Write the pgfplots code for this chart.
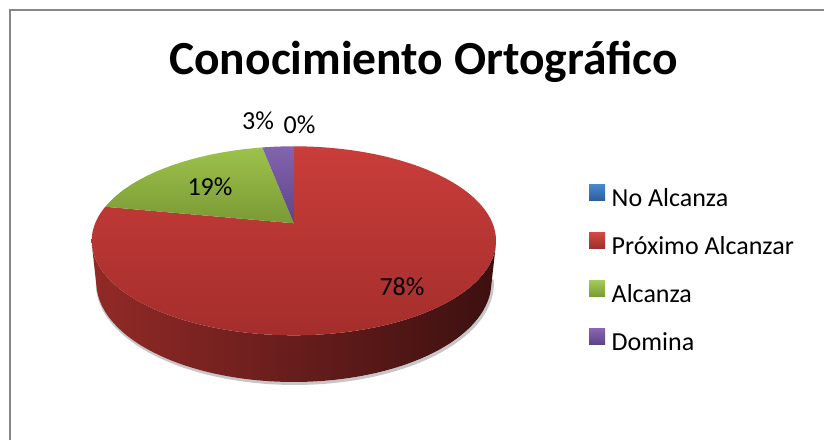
\documentclass[border=0pt]{standalone}
\usepackage{fontspec}
\setmainfont{Carlito}
\usepackage{pgfplots}
\pgfplotsset{compat=1.18}
\definecolor{frameg}{HTML}{878787}
\definecolor{redT}{HTML}{C93D3A}
\definecolor{redB}{HTML}{A42E2C}
\definecolor{greenT}{HTML}{9DC24B}
\definecolor{greenB}{HTML}{7A9A35}
\definecolor{purT}{HTML}{8264AF}
\definecolor{purB}{HTML}{5F4489}
\definecolor{sideL}{HTML}{922A27}
\definecolor{sideM}{HTML}{5E1C1A}
\definecolor{sideR}{HTML}{3C1010}
\definecolor{lgBlueT}{HTML}{4A88CF}
\definecolor{lgBlueB}{HTML}{2F5F9D}
\definecolor{lgRedT}{HTML}{D24A46}
\definecolor{lgRedB}{HTML}{A02E2B}
\definecolor{lgGreenT}{HTML}{A6CB59}
\definecolor{lgGreenB}{HTML}{7A9C35}
\definecolor{lgPurT}{HTML}{8A66B5}
\definecolor{lgPurB}{HTML}{5E4486}
% data: percentages
\def\pA{0}   % No Alcanza
\def\pB{78}  % Proximo Alcanzar
\def\pC{19}  % Alcanza
\def\pD{3}   % Domina
\begin{document}
\begin{tikzpicture}[declare function={
  pu(\ang,\hh)=293.85+952.4*cos(\ang)/(4.794+0.8878*sin(\ang)-0.4594*\hh);
  pv(\ang,\hh)=216.7+952.4*(0.8878*\hh+0.4594*sin(\ang))/(4.794+0.8878*sin(\ang)-0.4594*\hh);
}]
\pgfmathsetmacro{\aA}{90-3.6*\pA}
\pgfmathsetmacro{\aB}{\aA-3.6*\pB}
\pgfmathsetmacro{\aC}{\aB-3.6*\pC}
\pgfmathsetmacro{\aD}{\aC-3.6*\pD}
\useasboundingbox (0,0) rectangle (824pt,440pt);
\begin{axis}[at={(0pt,0pt)}, anchor=south west, scale only axis,
  width=824pt, height=440pt, xmin=0, xmax=824, ymin=0, ymax=440,
  hide axis, clip=false,
  legend image code/.code={\path[#1, draw=none] (0pt,0pt) rectangle (16pt,16pt);},
  legend cell align=left,
  legend style={at={(axis cs:589,256)}, anchor=north west, draw=none, fill=none,
    inner sep=0pt, outer sep=0pt, row sep=20pt, column sep=6.7pt,
    font=\fontsize{26}{30}\selectfont,
    nodes={inner sep=0pt, outer sep=0pt, text height=18pt, text depth=6pt}},
]
% frame
\draw[color=frameg, line width=2pt] (axis cs:10,0) -- (axis cs:10,431);
\draw[color=frameg, line width=2pt] (axis cs:9,430) -- (axis cs:830,430);
% soft shadow under pie
\addplot[forget plot, draw=black!22, line width=3pt, domain=-172:-8, samples=80, variable=\t]
  ({pu(\t,-0.236)+1}, {pv(\t,-0.236)-1.5});
% side of the pie (all red in front)
\addplot[forget plot, draw=none, left color=sideL, middle color=sideM, right color=sideR,
  domain=-166.4:139.2, samples=201, variable=\t]
  ({pu(ifthenelse(\t<=-13.6,\t,-27.2-\t), ifthenelse(\t<=-13.6,0,-0.236))},
   {pv(ifthenelse(\t<=-13.6,\t,-27.2-\t), ifthenelse(\t<=-13.6,0,-0.236))}) -- cycle;
% top faces
\addplot[forget plot, draw=none, top color=redT, bottom color=redB,
  domain=\aB:\aA, samples=200, variable=\t]
  ({pu(\t,0)}, {pv(\t,0)}) -- (axis cs:293.85,216.7) -- cycle;
\addplot[forget plot, draw=none, top color=greenT, bottom color=greenB,
  domain=\aC:\aB, samples=60, variable=\t]
  ({pu(\t,0)}, {pv(\t,0)}) -- (axis cs:293.85,216.7) -- cycle;
\addplot[forget plot, draw=none, top color=purT, bottom color=purB,
  domain=\aD:\aC, samples=20, variable=\t]
  ({pu(\t,0)}, {pv(\t,0)}) -- (axis cs:293.85,216.7) -- cycle;
% title and data labels
\node[anchor=base, font=\fontsize{47.5}{50}\selectfont\bfseries] at (axis cs:423.5,365) {Conocimiento Ortográfico};
\node[anchor=base, font=\fontsize{26}{30}\selectfont] at (axis cs:402,145) {78\%};
\node[anchor=base, font=\fontsize{26}{30}\selectfont] at (axis cs:210,245) {19\%};
\node[anchor=base, font=\fontsize{26}{30}\selectfont] at (axis cs:258,311) {3\%};
\node[anchor=base, font=\fontsize{26}{30}\selectfont] at (axis cs:299.5,307) {0\%};
% legend
\addlegendimage{top color=lgBlueT, bottom color=lgBlueB}
\addlegendentry{No Alcanza}
\addlegendimage{top color=lgRedT, bottom color=lgRedB}
\addlegendentry{Próximo Alcanzar}
\addlegendimage{top color=lgGreenT, bottom color=lgGreenB}
\addlegendentry{Alcanza}
\addlegendimage{top color=lgPurT, bottom color=lgPurB}
\addlegendentry{Domina}
\end{axis}
\end{tikzpicture}
\end{document}
